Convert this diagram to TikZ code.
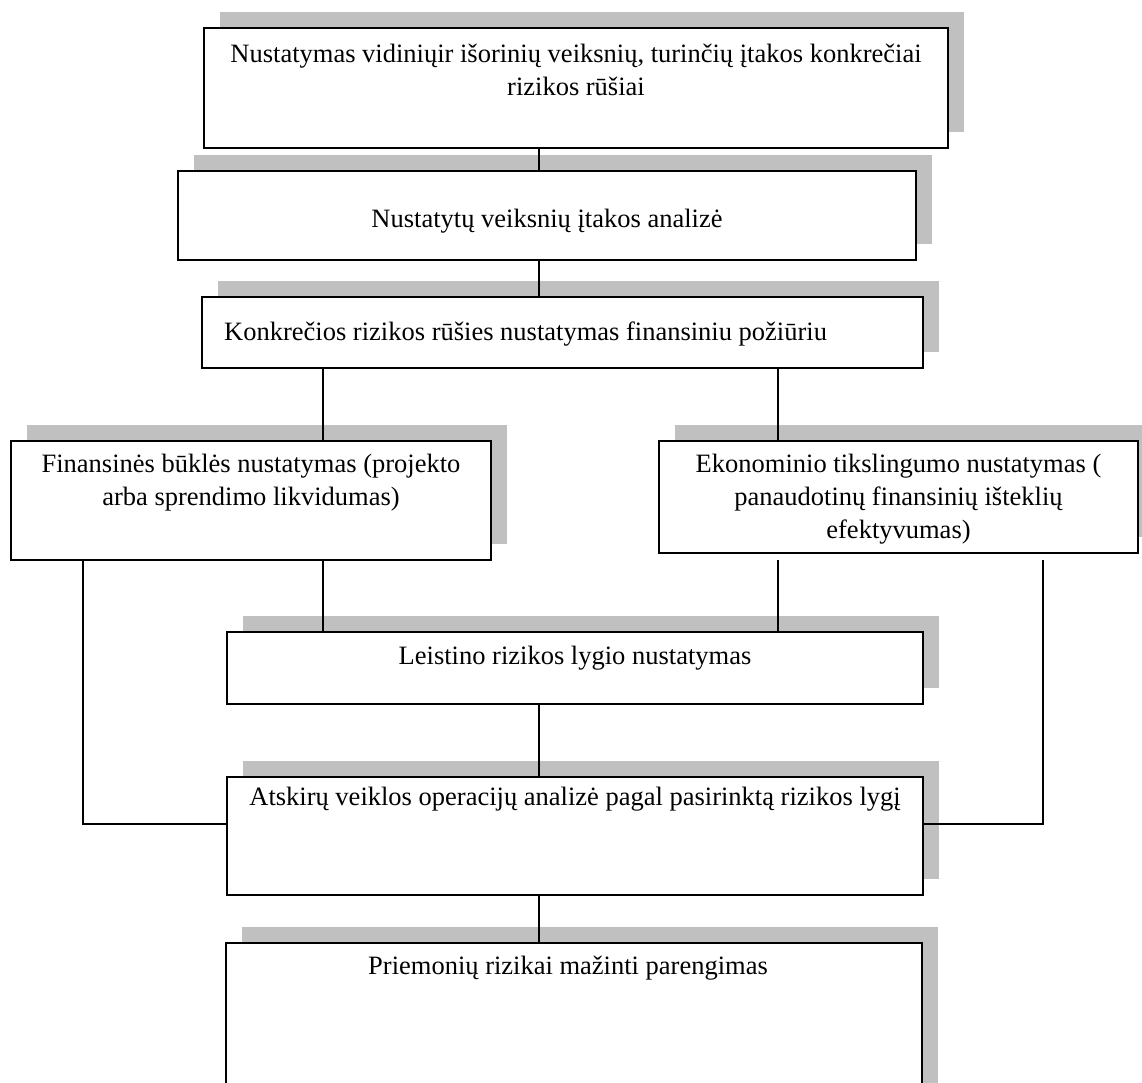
\documentclass[tikz,border=0pt]{standalone}
\usepackage{fontspec}
\setmainfont{Liberation Serif}
\usetikzlibrary{shadows}
\definecolor{shade}{RGB}{192,192,192}
\begin{document}
\begin{tikzpicture}[x=1pt,y=-1pt,
  panel/.style={draw=black, line width=2pt, fill=white, inner sep=0pt, outer sep=0pt,
    drop shadow={shadow xshift=16pt, shadow yshift=16pt, fill=shade, opacity=1}},
  boxtext/.style={inner sep=0pt, font=\fontsize{26.5}{33}\selectfont, align=center, anchor=base},
  conn/.style={line width=1.5pt}]
\useasboundingbox (0,0) rectangle (1142,1082);
\clip (0,0) rectangle (1142,1082);

% boxes
\node[panel, minimum width=744pt, minimum height=120pt] (b1) at (576,88) {};
\node[panel, minimum width=738pt, minimum height=89pt]  (b2) at (547,215.5) {};
\node[panel, minimum width=721pt, minimum height=71pt]  (b3) at (562.5,332.5) {};
\node[panel, minimum width=480pt, minimum height=119pt] (b4) at (251,500.5) {};
\node[panel, minimum width=479pt, minimum height=112pt] (b5) at (898.5,497) {};
\node[panel, minimum width=696pt, minimum height=72pt]  (b6) at (575,668) {};
\node[panel, minimum width=696pt, minimum height=118pt] (b7) at (575,836) {};
\node[panel, minimum width=696pt, minimum height=160pt] (b8) at (574,1023) {};

% connector columns and the level of the side links
\coordinate (cx) at (539,0);
\coordinate (cl) at (323,0);
\coordinate (cr) at (778,0);
\coordinate (fl) at (83,0);
\coordinate (fr) at (1043,0);
\coordinate (hy) at (0,824);

% connectors
\draw[conn] (b1.south -| cx) -- (b2.north -| cx);
\draw[conn] (b2.south -| cx) -- (b3.north -| cx);
\draw[conn] (b3.south -| cl) -- (b4.north -| cl);
\draw[conn] (b3.south -| cr) -- (b5.north -| cr);
\draw[conn] (b4.south -| cl) -- (b6.north -| cl);
\draw[conn] ([yshift=-7pt]b5.south -| cr) -- (b6.north -| cr);
\draw[conn] (b4.south -| fl) -- (fl |- hy) -- (b7.west |- hy);
\draw[conn] ([yshift=-7pt]b5.south -| fr) -- (fr |- hy) -- (b7.east |- hy);
\draw[conn] (b6.south -| cx) -- (b7.north -| cx);
\draw[conn] (b7.south -| cx) -- (b8.north -| cx);

% texts (base = baseline of the last line)
\node[boxtext] (t1) at (576,95) {Nustatymas vidiniųir išorinių veiksnių, turinčių įtakos konkrečiai\\rizikos rūšiai};
\node[boxtext] (t2) at (547,227) {Nustatytų veiksnių įtakos analizė};
\node[boxtext, anchor=base west] (t3) at (224,340) {Konkrečios rizikos rūšies nustatymas finansiniu požiūriu};
\node[boxtext] (t4) at (251,505) {Finansinės būklės nustatymas (projekto\\arba sprendimo likvidumas)};
\node[boxtext] (t5) at (898.5,538) {Ekonominio tikslingumo nustatymas (\\panaudotinų finansinių išteklių\\efektyvumas)};
\node[boxtext] (t6) at (575,664) {Leistino rizikos lygio nustatymas};
\node[boxtext] (t7) at (575,805) {Atskirų veiklos operacijų analizė pagal pasirinktą rizikos lygį};
\node[boxtext] (t8) at (568,974) {Priemonių rizikai mažinti parengimas};
\end{tikzpicture}
\end{document}
